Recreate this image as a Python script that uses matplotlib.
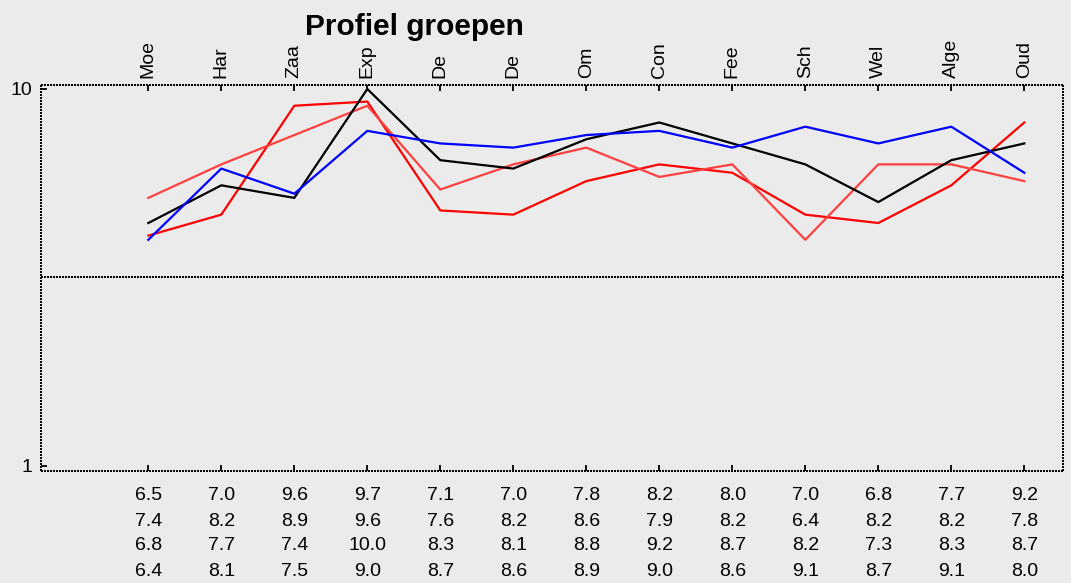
import numpy as np
import matplotlib.pyplot as plt
from matplotlib import transforms

plt.rcParams['font.family'] = ['Liberation Sans', 'DejaVu Sans']

categories = ["Moe", "Har", "Zaa", "Exp", "De", "De", "Om", "Con", "Fee", "Sch", "Wel", "Alge", "Oud"]
groep1 = [6.5, 7.0, 9.6, 9.7, 7.1, 7.0, 7.8, 8.2, 8.0, 7.0, 6.8, 7.7, 9.2]
groep2 = [7.4, 8.2, 8.9, 9.6, 7.6, 8.2, 8.6, 7.9, 8.2, 6.4, 8.2, 8.2, 7.8]
groep3 = [6.8, 7.7, 7.4, 10.0, 8.3, 8.1, 8.8, 9.2, 8.7, 8.2, 7.3, 8.3, 8.7]
groep4 = [6.4, 8.1, 7.5, 9.0, 8.7, 8.6, 8.9, 9.0, 8.6, 9.1, 8.7, 9.1, 8.0]
kleuren = ["#ff0000", "#ff4040", "#000000", "#0000ff"]
midden = 5.5

bg = "#ebebeb"
stip = (0, (1, 1))
fig = plt.figure(figsize=(10.71, 5.83), dpi=100, facecolor=bg)
ax = fig.add_axes([41/1071, 1 - 471/583, 1022/1071, 386/583], facecolor=bg)

x = np.arange(len(categories))
for reeks, kleur in zip([groep1, groep2, groep3, groep4], kleuren):
    ax.plot(x, reeks, color=kleur, lw=1.6, zorder=3)

ax.axhline(midden, color="black", lw=1.44, ls=stip, antialiased=False)

ax.set_xlim(-1.47, 12.53)
ax.set_ylim(0.88, 10.095)

# dotted frame drawn by hand
for s in ax.spines.values():
    s.set_visible(False)
for xs, ys in [([0, 1], [0, 0]), ([0, 1], [1, 1]), ([0, 0], [0, 1]), ([1, 1], [0, 1])]:
    ax.plot(xs, ys, transform=ax.transAxes, color="black", lw=1.44, ls=stip,
            antialiased=False, clip_on=False, zorder=4)

ax.set_yticks([1, 10])
ax.set_yticklabels(["1", "10"], fontsize=14)
ax.set_xticks(x)
ax.tick_params(axis="x", direction="in", top=True, bottom=True, labelbottom=False,
               length=4, width=1.3)
ax.tick_params(axis="y", direction="in", length=4, width=1.3, pad=6)

# category names on top, rotated
for xi, naam in zip(x, categories):
    ax.annotate(naam, (xi, 1), xycoords=("data", "axes fraction"),
                xytext=(0, 5), textcoords="offset points",
                rotation=90, ha="center", va="bottom", fontsize=14)

# value table under the plot
trans = transforms.blended_transform_factory(ax.transData, fig.transFigure)
rij_y = [496, 521, 546, 571]
for reeks, ry in zip([groep1, groep2, groep3, groep4], rij_y):
    for xi, v in zip(x, reeks):
        ax.text(xi, 1 - ry/583, f"{v:.1f}", transform=trans, ha="center",
                va="center", fontsize=14, clip_on=False)

fig.text(414/1071, 1 - 27/583, "Profiel groepen", ha="center", va="center",
         fontsize=21.5, fontweight="bold")

fig.savefig("out.png", dpi=100, facecolor=bg)
